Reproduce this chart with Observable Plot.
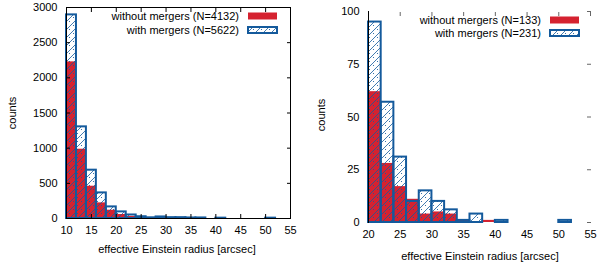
<!DOCTYPE html>
<html>
<head>
<meta charset="utf-8">
<script src="https://cdn.jsdelivr.net/npm/d3@7"></script>
<script src="https://cdn.jsdelivr.net/npm/@observablehq/plot@0.6"></script>
<style>
  html, body { margin: 0; padding: 0; background: #fff; }
  #wrap { display: flex; width: 600px; height: 266px; }
  #wrap > div { width: 300px; height: 266px; }
  svg { font-family: "Liberation Sans", Arial, sans-serif; }
</style>
</head>
<body>
<div id="wrap"><div id="left"></div><div id="right"></div></div>
<script>
// ---- data (bin width 2 arcsec, bins given by lower edge) ----
const leftBins    = [10, 12, 14, 16, 18, 20, 22, 24, 26, 28, 30, 32, 34, 36, 38, 40, 42, 44, 46, 48, 50];
const leftWithout = [2227, 985, 459, 222, 118, 57, 30, 12, 5, 8, 4, 4, 2, 2, 0, 1, 0, 0, 0, 0, 0];
const leftWith    = [2895, 1303, 687, 364, 165, 94, 50, 25, 10, 22, 12, 12, 8, 8, 0, 5, 0, 0, 0, 0, 5];

const rightBins    = [20, 22, 24, 26, 28, 30, 32, 34, 36, 38, 40, 42, 44, 46, 48, 50];
const rightWithout = [62, 28, 17, 11, 4, 5, 4, 1, 0, 1, 0, 0, 0, 0, 0, 0];
const rightWith    = [95, 57, 31, 10, 15, 10, 6, 1, 4, 0, 1, 0, 0, 0, 0, 1];

const leftXTicks  = [10, 15, 20, 25, 30, 35, 40, 45, 50, 55];
const leftYTicks  = [0, 500, 1000, 1500, 2000, 2500, 3000];
const rightXTicks = [20, 25, 30, 35, 40, 45, 50, 55];
const rightYTicks = [0, 25, 50, 75, 100];

const leftLegend  = ["without mergers (N=4132)", "with mergers (N=5622)"];
const rightLegend = ["without mergers (N=133)", "with mergers (N=231)"];

const xLabel = "effective Einstein radius [arcsec]";
const yLabel = "counts";
const binWidth = 2;

const RED = "#d52230";
const BLUE = "#145a9c";

function table(bins, vals) {
  return bins.map((b, i) => ({x0: b, x1: b + binWidth, v: vals[i]})).filter(d => d.v > 0);
}

function addPattern(svg, id) {
  const defs = d3.select(svg).insert("defs", ":first-child");
  const p = defs.append("pattern")
    .attr("id", id).attr("patternUnits", "userSpaceOnUse")
    .attr("width", 8).attr("height", 8);
  p.append("path").attr("d", "M-2,2 L2,-2 M0,8 L8,0 M6,10 L10,6")
    .attr("stroke", BLUE).attr("stroke-width", 0.8).attr("fill", "none");
  p.append("circle").attr("cx", 1.5).attr("cy", 1.5).attr("r", 0.55).attr("fill", BLUE);
  p.append("circle").attr("cx", 5.5).attr("cy", 5.5).attr("r", 0.55).attr("fill", BLUE);
}

const fmt = d => String(d);
const blank = () => "";

function panel(cfg) {
  const marks = [
    Plot.rect(table(cfg.bins, cfg.without), {x1: "x0", x2: "x1", y1: 0, y2: "v", fill: RED}),
    Plot.rect(table(cfg.bins, cfg.with), {x1: "x0", x2: "x1", y1: 0, y2: "v",
      fill: `url(#${cfg.pid})`, stroke: BLUE, strokeWidth: 2}),
    // tick labels
    Plot.axisX(cfg.xTicks, {tickSize: 0, tickPadding: cfg.xPad, fontSize: 11, label: null, tickFormat: fmt}),
    Plot.axisY(cfg.yTicks, {tickSize: 0, tickPadding: 9, fontSize: 11, label: null, tickFormat: fmt}),
    // inward ticks
    Plot.axisX(cfg.xTicks, {anchor: "top", tickSize: -4, tickFormat: blank, label: null, strokeOpacity: cfg.tickOp}),
    Plot.axisY(cfg.yTicks, {anchor: "right", tickSize: -4, tickFormat: blank, label: null, strokeOpacity: cfg.tickOp})
  ];
  if (cfg.fullFrame) {
    marks.push(Plot.axisX(cfg.xTicks, {anchor: "bottom", tickSize: -4, tickFormat: blank, label: null}));
    marks.push(Plot.axisY(cfg.yTicks, {anchor: "left", tickSize: -4, tickFormat: blank, label: null}));
    marks.push(Plot.frame({stroke: "black", strokeWidth: 1}));
  } else {
    marks.push(Plot.frame({anchor: "left", stroke: "black", strokeWidth: 1}));
  }
  const svg = Plot.plot({
    width: 300, height: 266,
    marginLeft: cfg.ml, marginRight: cfg.mr, marginTop: cfg.mt, marginBottom: cfg.mb,
    style: {fontFamily: "Liberation Sans, Arial, sans-serif", fontSize: "11px", color: "black", background: "white"},
    x: {domain: cfg.xDomain},
    y: {domain: cfg.yDomain},
    marks
  });
  addPattern(svg, cfg.pid);
  const s = d3.select(svg);
  s.selectAll("text").filter(function () { return this.textContent.trim() === ""; }).remove();
  // axis titles
  s.append("text").attr("x", cfg.xlX).attr("y", cfg.xlY).attr("text-anchor", "middle")
    .attr("font-size", 11).attr("fill", "black").text(xLabel);
  s.append("text").attr("transform", `translate(${cfg.ylX},${cfg.ylY}) rotate(-90)`)
    .attr("text-anchor", "middle").attr("font-size", 11).attr("fill", "black").text(yLabel);
  // legend
  const L = cfg.leg;
  s.append("text").attr("x", L.tx).attr("y", L.y1 + 4).attr("text-anchor", "end")
    .attr("font-size", 11).attr("fill", "black").text(cfg.legend[0]);
  s.append("rect").attr("x", L.sx).attr("y", L.y1 - 3.5).attr("width", L.sw).attr("height", 7).attr("fill", RED);
  s.append("text").attr("x", L.tx).attr("y", L.y2 + 4).attr("text-anchor", "end")
    .attr("font-size", 11).attr("fill", "black").text(cfg.legend[1]);
  s.append("rect").attr("x", L.sx).attr("y", L.y2 - 3).attr("width", L.sw).attr("height", 6)
    .attr("fill", `url(#${cfg.pid})`).attr("stroke", BLUE).attr("stroke-width", 2);
  return svg;
}

document.getElementById("left").appendChild(panel({
  bins: leftBins, without: leftWithout, with: leftWith, pid: "hatchL",
  xTicks: leftXTicks, yTicks: leftYTicks, xDomain: [10, 55], yDomain: [0, 3000],
  ml: 66, mr: 10, mt: 7, mb: 48, xPad: 8, fullFrame: true, tickOp: 1,
  xlX: 177, xlY: 253, ylX: 16, ylY: 113,
  legend: leftLegend, leg: {tx: 239, sx: 248, sw: 29, y1: 16, y2: 30}
}));

document.getElementById("right").appendChild(panel({
  bins: rightBins, without: rightWithout, with: rightWith, pid: "hatchR",
  xTicks: rightXTicks, yTicks: rightYTicks, xDomain: [20, 55], yDomain: [0, 100],
  ml: 68, mr: 10, mt: 11, mb: 44, xPad: 8, fullFrame: false, tickOp: 0.6,
  xlX: 180, xlY: 260, ylX: 25, ylY: 115,
  legend: rightLegend, leg: {tx: 241, sx: 250, sw: 29, y1: 20, y2: 33}
}));
</script>
</body>
</html>
